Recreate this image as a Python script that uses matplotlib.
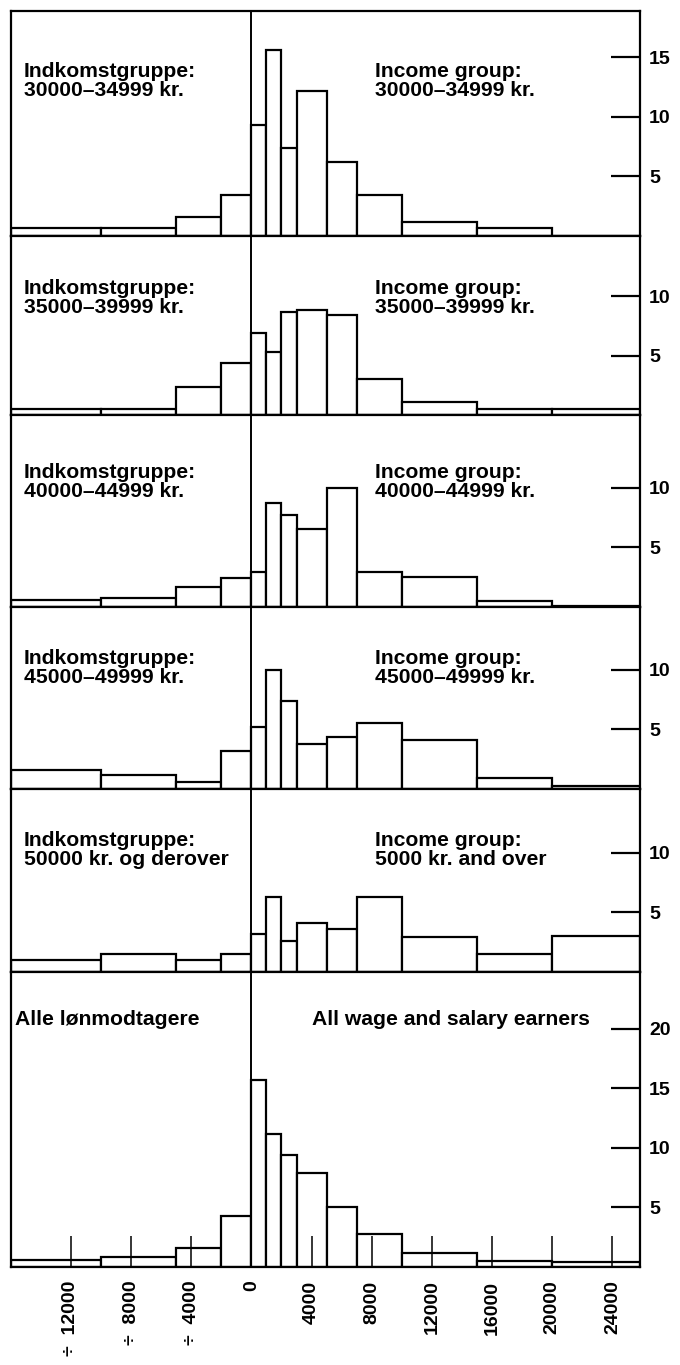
import numpy as np
import matplotlib.pyplot as plt

plt.rcParams['font.family'] = ['Liberation Sans', 'DejaVu Sans']
plt.rcParams['font.weight'] = 'bold'

# bin edges (kr.), the last edge is the right end of the axis
edges = [-16000, -10000, -5000, -2000, 0, 1000, 2000, 3000, 5000, 7000,
         10000, 15000, 20000, 25800]

# heights per bin (pct. per 1000 kr.)
g30 = [0.68, 0.62, 1.61, 3.39, 9.29, 15.65, 7.40, 12.20, 6.19, 3.39, 1.13, 0.62, 0.0]
g35 = [0.56, 0.56, 2.36, 4.39, 6.94, 5.36, 8.69, 8.83, 8.47, 3.08, 1.11, 0.50, 0.56]
g40 = [0.59, 0.73, 1.62, 2.43, 2.89, 8.73, 7.70, 6.54, 9.95, 2.89, 2.49, 0.49, 0.10]
g45 = [1.54, 1.18, 0.56, 3.17, 5.20, 10.00, 7.36, 3.79, 4.35, 5.53, 4.07, 0.90, 0.20]
g50 = [1.00, 1.47, 1.00, 1.47, 3.22, 6.30, 2.57, 4.14, 3.61, 6.30, 2.90, 1.47, 3.05]
g_all = [0.56, 0.81, 1.59, 4.30, 15.70, 11.20, 9.41, 7.88, 5.03, 2.71, 1.17, 0.47, 0.39]

left_labels = ["Indkomstgruppe:\n30000–34999 kr.",
               "Indkomstgruppe:\n35000–39999 kr.",
               "Indkomstgruppe:\n40000–44999 kr.",
               "Indkomstgruppe:\n45000–49999 kr.",
               "Indkomstgruppe:\n50000 kr. og derover",
               "Alle lønmodtagere"]
right_labels = ["Income group:\n30000–34999 kr.",
                "Income group:\n35000–39999 kr.",
                "Income group:\n40000–44999 kr.",
                "Income group:\n45000–49999 kr.",
                "Income group:\n5000 kr. and over",
                "All wage and salary earners"]

y_tops = [18.9, 15.1, 16.1, 15.3, 15.4, 24.8]
y_ticks = [[5, 10, 15], [5, 10], [5, 10], [5, 10], [5, 10], [5, 10, 15, 20]]

x_ticks = [-12000, -8000, -4000, 0, 4000, 8000, 12000, 16000, 20000, 24000]
x_ticklabels = ["÷  12000", "÷  8000", "÷  4000", "0", "4000", "8000",
                "12000", "16000", "20000", "24000"]

series = [g30, g35, g40, g45, g50, g_all]

# layout
W, H = 680, 1365
ax_left, ax_right = 10.7 / W, 639.5 / W
ax_top, ax_bottom = 1 - 11 / H, 1 - 1266.7 / H
text_drop = [36.5, 31.5, 34.5, 30.5, 30.5, 27.5]   # points below panel top
left_x = [0.021, 0.021, 0.021, 0.021, 0.021, 0.007]
right_x = [0.579, 0.579, 0.579, 0.579, 0.579, 0.479]

fig = plt.figure(figsize=(W / 100, H / 100), dpi=100)
gs = fig.add_gridspec(len(series), 1, height_ratios=y_tops, hspace=0,
                      left=ax_left, right=ax_right, top=ax_top, bottom=ax_bottom)

widths = np.diff(edges)
for i, vals in enumerate(series):
    ax = fig.add_subplot(gs[i])
    ax.bar(edges[:-1], vals, width=widths, align='edge', facecolor='white',
           edgecolor='black', linewidth=1.6, zorder=1)
    ax.axvline(0, color='black', linewidth=1.4, zorder=3)
    ax.set_xlim(edges[0], edges[-1])
    ax.set_ylim(0, y_tops[i])

    for s in ax.spines.values():
        s.set_linewidth(1.6)

    ax.yaxis.tick_right()
    ax.set_yticks(y_ticks[i])
    ax.tick_params(axis='y', direction='in', length=21, width=1.6, pad=7,
                   labelsize=14)

    if i == len(series) - 1:
        ax.set_xticks(x_ticks)
        ax.set_xticklabels(x_ticklabels, rotation=90, va='top', ha='center')
        ax.tick_params(axis='x', direction='in', length=22, width=1.1, pad=10,
                       labelsize=14)
    else:
        ax.set_xticks([])

    ax.annotate(left_labels[i], xy=(left_x[i], 1), xycoords='axes fraction',
                xytext=(0, -text_drop[i]), textcoords='offset points',
                ha='left', va='top', fontsize=15.2, linespacing=1.0)
    ax.annotate(right_labels[i], xy=(right_x[i], 1), xycoords='axes fraction',
                xytext=(0, -text_drop[i]), textcoords='offset points',
                ha='left', va='top', fontsize=15.2, linespacing=1.0)

fig.savefig("out.png", dpi=100)
